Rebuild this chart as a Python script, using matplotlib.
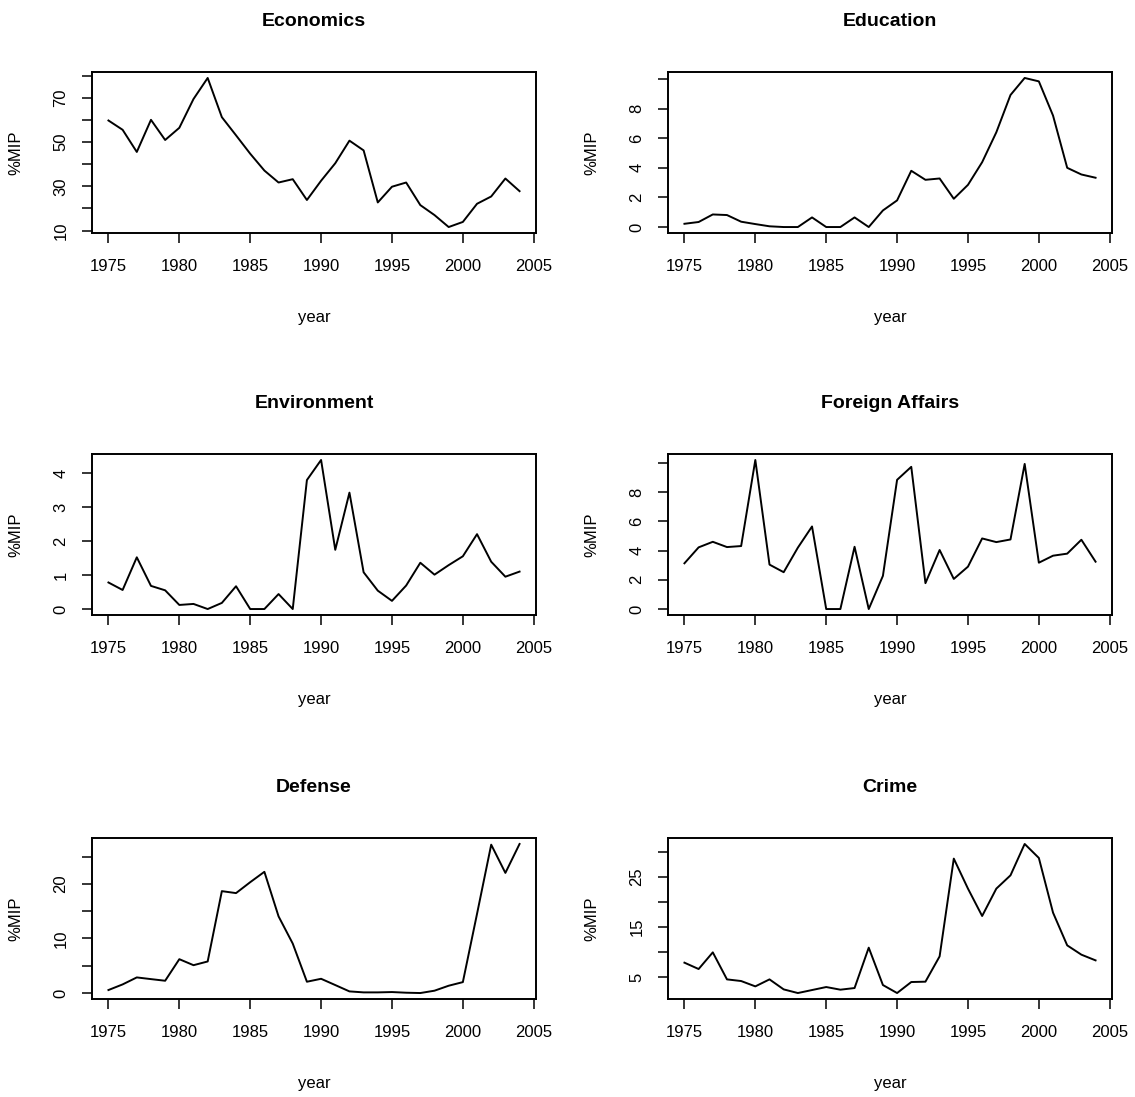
import matplotlib
matplotlib.use("Agg")
import matplotlib.pyplot as plt
import numpy as np

plt.rcParams['font.family'] = ['Liberation Sans', 'DejaVu Sans']

years = list(range(1975, 2005))

economics = [59.7, 55.5, 45.5, 60.0, 50.9, 56.4, 69.4, 78.9, 61.2, 53.0,
             44.7, 37.1, 31.7, 33.2, 23.8, 32.5, 40.4, 50.6, 46.2, 22.7,
             29.8, 31.7, 21.5, 17.0, 11.6, 13.9, 22.1, 25.4, 33.5, 27.8]
education = [0.22, 0.34, 0.85, 0.81, 0.36, 0.20, 0.05, 0.0, 0.0, 0.65,
             0.0, 0.0, 0.65, 0.0, 1.12, 1.80, 3.80, 3.19, 3.28, 1.91,
             2.85, 4.38, 6.40, 8.92, 10.07, 9.84, 7.53, 4.00, 3.55, 3.33]
environment = [0.78, 0.56, 1.52, 0.68, 0.55, 0.12, 0.15, 0.0, 0.18, 0.67,
               0.0, 0.0, 0.44, 0.0, 3.79, 4.38, 1.74, 3.42, 1.08, 0.54,
               0.24, 0.69, 1.36, 1.01, 1.29, 1.55, 2.20, 1.39, 0.95, 1.10]
foreign = [3.13, 4.22, 4.60, 4.24, 4.31, 10.2, 3.04, 2.52, 4.20, 5.65,
           0.0, 0.0, 4.26, 0.0, 2.27, 8.84, 9.73, 1.77, 4.04, 2.06,
           2.90, 4.83, 4.58, 4.76, 9.93, 3.17, 3.65, 3.79, 4.74, 3.24]
defense = [0.55, 1.58, 2.86, 2.55, 2.25, 6.2, 5.1, 5.78, 18.66, 18.3,
           20.3, 22.2, 14.04, 9.06, 2.07, 2.61, 1.46, 0.30, 0.12, 0.12,
           0.18, 0.06, 0.0, 0.43, 1.34, 2.0, 14.5, 27.17, 22.0, 27.3]
crime = [7.87, 6.6, 9.93, 4.53, 4.2, 3.13, 4.53, 2.53, 1.8, 2.4,
         3.0, 2.47, 2.8, 10.87, 3.4, 1.8, 4.0, 4.07, 9.13, 28.67,
         22.67, 17.2, 22.67, 25.33, 31.6, 28.8, 17.87, 11.33, 9.47, 8.33]

titles = ["Economics", "Education", "Environment", "Foreign Affairs", "Defense", "Crime"]
series = [economics, education, environment, foreign, defense, crime]
x_ticks = [1975, 1980, 1985, 1990, 1995, 2000, 2005]
y_ticks = [
    [10, 20, 30, 40, 50, 60, 70, 80],
    [0, 2, 4, 6, 8, 10],
    [0, 1, 2, 3, 4],
    [0, 2, 4, 6, 8, 10],
    [0, 5, 10, 15, 20, 25],
    [5, 10, 15, 20, 25, 30],
]
y_labels = [
    ["10", "", "30", "", "50", "", "70", ""],
    ["0", "2", "4", "6", "8", ""],
    ["0", "1", "2", "3", "4"],
    ["0", "2", "4", "6", "8", ""],
    ["0", "", "10", "", "20", ""],
    ["5", "", "15", "", "25", ""],
]

W, H = 1135, 1097
fig = plt.figure(figsize=(W / 100, H / 100), dpi=100)

lefts = [92, 668]
tops = [72, 454, 838]
aw, ah = 444, 161

for i, (title, vals) in enumerate(zip(titles, series)):
    r, c = divmod(i, 2)
    left = lefts[c]
    top = tops[r]
    ax = fig.add_axes([left / W, 1 - (top + ah) / H, aw / W, ah / H])
    ax.plot(years, vals, color='black', lw=1.4)
    ax.set_xlim(1975 - 0.04 * 29, 2004 + 0.04 * 29)
    lo, hi = min(vals), max(vals)
    rng = hi - lo
    ax.set_ylim(lo - 0.04 * rng, hi + 0.04 * rng)
    ax.set_xticks(x_ticks)
    ax.set_xticklabels([str(t) for t in x_ticks])
    ax.set_yticks(y_ticks[i])
    ax.set_yticklabels(y_labels[i])
    ax.tick_params(axis='both', direction='out', length=7, width=1.1,
                   labelsize=12, colors='black')
    ax.tick_params(axis='x', pad=12)
    ax.tick_params(axis='y', pad=10, labelrotation=90)
    for lab in ax.get_yticklabels():
        lab.set_va('center')
    for sp in ax.spines.values():
        sp.set_linewidth(1.4)
        sp.set_color('black')
    ax.annotate(title, xy=(0.5, 1), xycoords='axes fraction',
                xytext=(0, 36.5), textcoords='offset points',
                ha='center', va='center', fontsize=14, fontweight='bold')
    ax.annotate("year", xy=(0.5, 0), xycoords='axes fraction',
                xytext=(0, -61), textcoords='offset points',
                ha='center', va='center', fontsize=12)
    ax.annotate("%MIP", xy=(0, 0.5), xycoords='axes fraction',
                xytext=(-54.5, 0), textcoords='offset points',
                ha='center', va='center', fontsize=12, rotation=90)

fig.savefig("out.png", dpi=100, facecolor='white')
